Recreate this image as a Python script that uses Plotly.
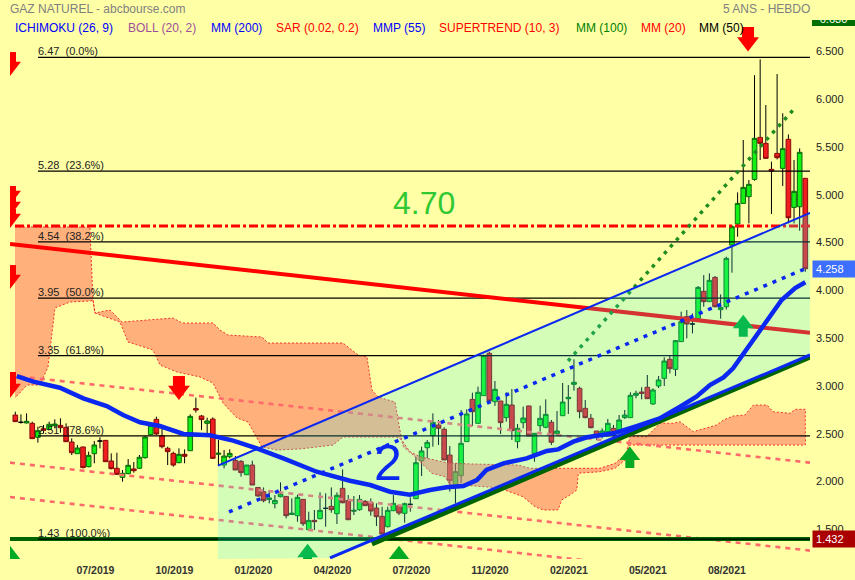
import plotly.graph_objects as go

BG = "#FFFFA6"
# ---- weekly candles (open, high, low, close)
open_ = [2.728,2.652,2.645,2.641,2.495,2.585,2.578,2.617,2.620,2.599,2.446,2.324,2.394,2.188,2.324,2.456,2.463,2.247,2.171,2.076,
2.115,2.164,2.171,2.282,2.523,2.683,2.512,2.380,2.327,2.230,2.317,2.355,2.795,2.718,2.641,2.686,2.320,2.205,2.292,2.254,
2.243,2.104,2.205,1.971,1.926,1.846,1.801,1.874,1.877,1.689,1.675,1.846,1.529,1.626,1.644,1.752,1.773,1.696,1.961,1.835,
1.724,1.738,1.825,1.815,1.755,1.668,1.560,1.727,1.780,1.700,1.794,1.853,2.250,2.386,2.512,2.624,2.579,2.310,1.996,2.094,
2.450,2.892,2.641,2.931,3.374,2.868,2.875,2.701,2.833,2.450,2.648,2.823,2.327,2.617,2.600,2.652,2.533,2.721,2.899,3.049,
3.007,2.798,2.694,2.561,2.519,2.554,2.589,2.572,2.701,2.701,2.934,2.969,3.018,2.844,3.032,3.112,3.311,3.206,3.496,3.757,
3.680,3.739,4.022,3.914,4.168,3.830,3.861,4.506,4.726,4.942,5.012,5.193,5.632,5.570,5.298,5.465,5.308,5.612,4.900,4.907,5.204]
high = [2.763,2.735,2.746,2.659,2.606,2.624,2.659,2.683,2.694,2.641,2.484,2.415,2.397,2.345,2.456,2.495,2.467,2.327,2.334,2.153,
2.268,2.237,2.310,2.509,2.655,2.711,2.624,2.397,2.345,2.380,2.369,2.735,2.910,2.728,2.700,2.704,2.467,2.362,2.369,2.299,
2.257,2.205,2.250,1.971,1.971,1.944,1.891,2.024,1.877,1.856,1.895,1.846,1.717,1.734,1.919,1.909,1.971,1.919,2.160,1.891,
1.881,1.891,1.839,1.856,1.804,1.769,1.769,1.891,1.787,1.811,1.867,2.292,2.397,2.467,2.746,2.676,2.600,2.404,2.223,2.781,
2.788,2.962,3.025,3.360,3.391,3.084,2.875,2.966,3.000,2.634,2.816,2.823,2.537,2.826,2.892,2.676,2.770,3.063,3.042,3.311,
3.025,2.885,2.739,2.561,2.589,2.687,2.624,2.728,2.781,2.966,2.983,3.018,3.147,3.007,3.136,3.332,3.356,3.513,3.809,3.826,
3.791,4.077,4.192,4.210,4.182,3.990,4.384,4.715,5.057,5.605,5.186,6.284,6.448,5.971,5.378,6.295,5.884,5.664,5.395,5.517,5.204]
low = [2.659,2.638,2.641,2.481,2.439,2.537,2.572,2.589,2.544,2.449,2.310,2.320,2.171,2.181,2.223,2.380,2.240,2.160,2.101,2.031,
2.108,2.125,2.164,2.272,2.519,2.519,2.380,2.205,2.188,2.223,2.223,2.352,2.753,2.572,2.519,2.275,2.205,2.170,2.275,2.153,
2.083,2.100,1.996,1.874,1.815,1.804,1.752,1.867,1.647,1.682,1.612,1.567,1.525,1.525,1.637,1.560,1.706,1.588,1.804,1.630,
1.682,1.727,1.780,1.675,1.567,1.483,1.553,1.724,1.682,1.602,1.717,1.849,2.090,2.275,2.397,2.415,2.258,1.927,1.804,2.014,
2.450,2.613,2.641,2.931,2.875,2.823,2.530,2.659,2.467,2.380,2.589,2.509,2.240,2.554,2.589,2.415,2.512,2.718,2.739,2.983,
2.694,2.694,2.589,2.467,2.484,2.500,2.484,2.537,2.687,2.701,2.903,2.892,2.899,2.833,3.010,3.032,3.164,3.136,3.496,3.530,
3.582,3.720,3.861,3.914,3.854,3.736,3.833,4.217,4.593,4.942,4.733,5.179,5.395,5.413,4.831,5.402,5.123,4.733,4.733,4.656,4.227]
close = [2.659,2.652,2.662,2.481,2.565,2.568,2.631,2.634,2.596,2.449,2.334,2.383,2.178,2.306,2.415,2.456,2.240,2.167,2.108,2.118,
2.202,2.146,2.286,2.498,2.620,2.530,2.397,2.345,2.205,2.317,2.296,2.714,2.781,2.680,2.666,2.275,2.328,2.299,2.327,2.153,
2.125,2.205,1.996,1.881,1.832,1.860,1.835,1.902,1.675,1.700,1.867,1.591,1.626,1.612,1.731,1.752,1.738,1.888,1.811,1.633,
1.731,1.846,1.780,1.724,1.665,1.483,1.731,1.804,1.703,1.801,1.794,2.229,2.352,2.442,2.652,2.589,2.258,2.041,2.136,2.432,
2.739,2.763,2.966,3.349,2.875,2.997,2.648,2.840,2.565,2.589,2.697,2.509,2.537,2.694,2.735,2.443,2.561,2.864,2.913,3.070,
2.763,2.701,2.596,2.500,2.561,2.641,2.519,2.676,2.728,2.934,2.955,2.955,2.899,2.990,3.095,3.293,3.213,3.506,3.704,3.680,
3.680,4.063,3.914,4.137,3.861,3.854,4.367,4.698,4.942,5.109,5.141,5.622,5.570,5.413,5.280,5.420,5.514,4.792,5.068,5.476,4.258]
sessions = list(range(len(close)))

# ---- x axis
tick_pos = [14.2,28.2,42.2,56.2,70.2,84.1,98.1,112.1,126.1]
tick_labels = ["07/2019","10/2019","01/2020","04/2020","07/2020","11/2020","02/2021","05/2021","08/2021"]
x_range = [-0.94, 140.83]
y_range = [1.2221, 6.8602]
price_ticks = [1.5,2.0,2.5,3.0,3.5,4.0,4.5,5.0,5.5,6.0,6.5]
price_tick_labels = ["1.500","2.000","2.500","3.000","3.500","4.000","4.500","5.000","5.500","6.000","6.500"]

# ---- MM 200
ma_x = [0.25,3.2,7.9,12.05,16.2,19.1,22.1,25.6,29.8,34.5,38.6,42.8,47.5,53.4,59.3,62.9,66.4,69.9,73.5,76.4,79.4,81.8,83.5,86.5,90.6,94.2,96.2,98.9,101.3,106,110.1,114.2,117.8,120.7,123.1,125.5,127.2,129.5,132,133.7,135.8,138.2,140]
ma_y = [3.136,3.077,3.014,2.903,2.822,2.728,2.652,2.613,2.530,2.516,2.460,2.380,2.275,2.135,2.041,1.996,1.926,1.895,1.944,1.972,1.986,2.048,2.153,2.223,2.275,2.352,2.369,2.449,2.495,2.537,2.613,2.693,2.815,2.920,3.042,3.122,3.217,3.408,3.617,3.774,3.931,4.057,4.117]

# ---- Ichimoku cloud
cloud_up_x = [-0.05,13.24,13.41,13.77,14.12,16.78,18.91,27.95,29.54,35.04,36.27,37.69,43.72,44.78,58.07,60.73,62.32,63.21,64.28,67.29,68.47,69.95,71.72,73.13,76.68,80.88,85.0,89.08,91.2,98.3,103.6,106.3,108.3,108.9,111.9,114.25,116.6,117.8,120.15,124.3,125.5,127.2,129.3,130.8,133.2,134.3,137.3,138.2,140]
cloud_up_y = [4.695,4.695,4.423,3.931,3.795,3.827,3.701,3.743,3.691,3.691,3.617,3.565,3.544,3.481,3.481,3.356,3.335,2.990,2.917,2.864,2.467,2.344,2.292,2.275,2.226,2.216,2.213,2.205,2.171,2.171,2.171,2.223,2.328,2.501,2.501,2.642,2.642,2.658,2.554,2.624,2.676,2.718,2.728,2.833,2.833,2.763,2.746,2.788,2.788]
cloud_lo_x = [-0.05,2.07,4.38,5.79,7.03,9.69,13.24,13.77,14.12,18.55,19.97,24.4,25.64,28.65,32.73,35.04,36.8,39.29,41.24,43.72,46.37,50.45,56.3,58.07,62.32,67.64,68.47,68.76,70.83,73.79,76.14,77.03,81.47,84.42,86.43,89.97,92.09,93.51,96.17,96.83,98.3,99.49,99.77,103.6,106.3,108.05,108.9,140]
cloud_lo_y = [2.906,3.042,3.042,3.230,3.848,3.910,3.921,3.931,3.795,3.701,3.492,3.408,3.251,3.178,3.126,3.063,2.854,2.697,2.655,2.394,2.362,2.373,2.414,2.498,2.498,2.498,2.467,2.397,2.292,2.119,2.083,1.996,1.986,1.972,1.951,1.874,1.769,1.735,1.735,1.839,1.892,1.944,2.119,2.135,2.171,2.258,2.414,2.414]

# ---- Fibonacci retracement
fib_levels = [6.47,5.28,4.54,3.95,3.35,2.51,1.43]
fib_labels = ["6.47\u00a0\u00a0(0.0%)","5.28\u00a0\u00a0(23.6%)","4.54\u00a0\u00a0(38.2%)","3.95\u00a0\u00a0(50.0%)","3.35\u00a0\u00a0(61.8%)","2.51\u00a0\u00a0(78.6%)","1.43\u00a0\u00a0(100.0%)"]
fib_start = 4.02

# ---- trend lines
chan_top_x, chan_top_y = [35.9,140.83],[2.198,4.841]
chan_low_x, chan_low_y = [55.77,140.83],[1.233,3.356]
chan_mid_x, chan_mid_y = [37.87,140.3],[1.714,4.266]
green_base_x, green_base_y = [63.2,140.83],[1.379,3.335]
green_dot_x, green_dot_y = [97.95,138],[3.293,5.929]
red_fall_x, red_fall_y = [-0.94,140.83],[4.517,3.589]
dash1_x, dash1_y = [-0.94,140.83],[3.142,2.23]
dash2_x, dash2_y = [-0.94,140.83],[2.23,1.31]
dash3_x, dash3_y = [-0.94,140.83],[1.87,0.95]
supertrend_level = 4.705
floor_level = 1.432

# ---- signal arrows
down_x = [129.85,29.0,-0.94,-0.94,-0.94,-0.94,-0.94,-0.94]
down_top = [6.787,3.136,6.525,5.124,5.009,4.883,4.297,3.178]
down_head = [6.63,2.985,6.374,5.024,4.909,4.784,4.146,3.006]
up_x = [129,108.9,51.8,68,-0.94]
up_head = [3.683,2.306,1.288,1.267,1.267]
up_bottom = [3.547,2.174,1.105,1.105,1.105]

legend_names = ["ICHIMOKU (26, 9)","BOLL (20, 2)","MM (200)","SAR (0.02, 0.2)","MMP (55)","SUPERTREND (10, 3)","MM (100)","MM (20)","MM (50)"]
legend_colors = ["#0000FF","#A0509A","#0000FF","#FF0000","#0000FF","#FF0000","#008000","#FF0000","#000000"]
legend_left = [13,126,209,274,371,437,574,639,697]

FONT = "Liberation Sans, Arial, sans-serif"
fig = go.Figure()

def line(x, y, color, width, dash=None):
    fig.add_trace(go.Scatter(x=x, y=y, mode="lines", hoverinfo="skip", showlegend=False,
                             line=dict(color=color, width=width, dash=dash)))

# wicks (black) then bodies; the wick trace collapses its body to a midpoint hidden by the bodies
mid = [(o + c) / 2 for o, c in zip(open_, close)]
fig.add_trace(go.Candlestick(x=sessions, open=mid, high=high, low=low, close=mid, whiskerwidth=0,
    increasing=dict(line=dict(color="#000000", width=1), fillcolor="#000000"),
    decreasing=dict(line=dict(color="#000000", width=1), fillcolor="#000000"),
    hoverinfo="skip", showlegend=False))
b_open = [o if o != c else None for o, c in zip(open_, close)]
b_close = [c if o != c else None for o, c in zip(open_, close)]
b_high = [max(o, c) if o != c else None for o, c in zip(open_, close)]
b_low = [min(o, c) if o != c else None for o, c in zip(open_, close)]
fig.add_trace(go.Candlestick(x=sessions, open=b_open, high=b_high, low=b_low, close=b_close, whiskerwidth=0,
    increasing=dict(line=dict(color="#0B6B0B", width=1), fillcolor="#14F014"),
    decreasing=dict(line=dict(color="#8A0A0A", width=1), fillcolor="#F01E1E"),
    hoverinfo="skip", showlegend=False))

# cloud
fig.add_trace(go.Scatter(x=cloud_up_x + cloud_lo_x[::-1], y=cloud_up_y + cloud_lo_y[::-1], mode="lines", fill="toself",
    fillcolor="rgba(255,97,79,0.5)", line=dict(color="#F03030", width=1, dash="2px,2px"), hoverinfo="skip", showlegend=False))

# dashed red channel
for xs, ys in ((dash1_x, dash1_y), (dash2_x, dash2_y), (dash3_x, dash3_y)):
    line(xs, ys, "#FF6A6A", 2.6, "5px,5px")

# floor, fibs
line(x_range, [floor_level, floor_level], "#006400", 4)
for lv in fib_levels:
    line([fib_start, x_range[1]], [lv, lv], "#000000", 1.2)

line(red_fall_x, red_fall_y, "#FF0000", 4)
line([-0.05, x_range[1]], [supertrend_level, supertrend_level], "#FF0000", 3, "9px,3px,3px,3px")
line(green_dot_x, green_dot_y, "#1E8C1E", 3.5, "3.5px,5.5px")
line(green_base_x, green_base_y, "#006400", 5)

# arrows
stem_x, stem_y = [], []
for x, t, h in zip(down_x, down_top, down_head):
    stem_x += [x, x, None]; stem_y += [t, h, None]
line(stem_x, stem_y, "#FF0000", 12)
fig.add_trace(go.Scatter(x=down_x, y=down_head, mode="markers", hoverinfo="skip", showlegend=False,
    marker=dict(symbol="triangle-down", size=19, color="#FF0000", line=dict(width=0))))
stem_x, stem_y = [], []
for x, h, b in zip(up_x, up_head, up_bottom):
    stem_x += [x, x, None]; stem_y += [b, h, None]
line(stem_x, stem_y, "#00AA22", 9)
fig.add_trace(go.Scatter(x=up_x, y=up_head, mode="markers", hoverinfo="skip", showlegend=False,
    marker=dict(symbol="triangle-up", size=18, color="#00AA22", line=dict(width=0))))

# channel fill on top with transparency
fig.add_trace(go.Scatter(
    x=[chan_top_x[0]] + chan_top_x + chan_low_x[::-1],
    y=[y_range[0]] + chan_top_y + chan_low_y[::-1],
    mode="none", fill="toself", fillcolor="rgba(40,250,255,0.2)", hoverinfo="skip", showlegend=False))

line(ma_x, ma_y, "#0A28F0", 4.5)
line(chan_top_x, chan_top_y, "#0A28F0", 2)
line(chan_low_x, chan_low_y, "#0A28F0", 3)
line(chan_mid_x, chan_mid_y, "#0A28F0", 3.5, "4px,6px")

ann = []
W_PAPER = 845.0
def px(x):
    return (x - 10) / W_PAPER

for name, col, xl in zip(legend_names, legend_colors, legend_left):
    ann.append(dict(text=name, x=px(xl), xref="paper", y=1, yref="paper", yshift=-7.5, xanchor="left", yanchor="middle",
                    showarrow=False, font=dict(family=FONT, size=12, color=col)))
ann.append(dict(text="GAZ NATUREL - abcbourse.com", x=px(8), xref="paper", y=1, yref="paper", yshift=11, xanchor="left", yanchor="middle",
                showarrow=False, font=dict(family=FONT, size=12, color="#808080")))
ann.append(dict(text="5 ANS - HEBDO", x=px(812), xref="paper", y=1, yref="paper", yshift=11, xanchor="right", yanchor="middle",
                showarrow=False, font=dict(family=FONT, size=12, color="#808080")))
for lv, lab in zip(fib_levels, fib_labels):
    ann.append(dict(text=lab, x=fib_start, xref="x", y=lv, yref="y", xanchor="left", yanchor="bottom", xshift=-2, yshift=-2,
                    showarrow=False, font=dict(family=FONT, size=11, color="#222222")))
ann.append(dict(text="4.70", x=72.4, xref="x", y=4.946, yref="y", showarrow=False,
                font=dict(family=FONT, size=32, color="#32C832")))
ann.append(dict(text="2", x=66.1, xref="x", y=2.226, yref="y", showarrow=False,
                font=dict(family=FONT, size=50, color="#0A28F0")))
ann.append(dict(text="\u00a04.258", x=px(812), xref="paper", y=4.258, yref="y", xanchor="left", yanchor="middle", showarrow=False,
                width=43, height=16, bgcolor="#3C6EFF", align="left", borderpad=0,
                font=dict(family=FONT, size=11, color="#FFFFFF")))
ann.append(dict(text="\u00a01.432", x=px(812), xref="paper", y=1.432, yref="y", xanchor="left", yanchor="middle", showarrow=False,
                width=43, height=16, bgcolor="#AA0000", align="left", borderpad=0,
                font=dict(family=FONT, size=11, color="#FFFFFF")))

# clipped tag in the upper right corner
fig.add_trace(go.Scatter(x=[0.5], y=[0.9], mode="text", text=["6.630"], xaxis="x2", yaxis="y2", hoverinfo="skip", showlegend=False,
    textfont=dict(family=FONT, size=11, color="#FFFFFF"), cliponaxis=True))

fig.update_layout(
    width=855, height=580, autosize=False,
    margin=dict(l=10, r=0, t=20, b=21, pad=0),
    paper_bgcolor=BG, plot_bgcolor=BG, showlegend=False, boxgap=0.18, boxgroupgap=0,
    xaxis=dict(domain=[0, 800/W_PAPER], range=x_range, type="linear", tickmode="array", tickvals=tick_pos, ticktext=tick_labels,
               showgrid=False, zeroline=False, showline=False, ticks="", rangeslider=dict(visible=False),
               tickfont=dict(family=FONT, size=10.5, color="#333333", weight="bold"), ticklabelstandoff=3),
    yaxis=dict(range=y_range, side="right", tickmode="array", tickvals=price_ticks, ticktext=price_tick_labels,
               showgrid=False, zeroline=False, showline=False, ticks="", anchor="x",
               tickfont=dict(family=FONT, size=11, color="#222222"), ticklabelshift=-3, ticklabelstandoff=5),
    xaxis2=dict(domain=[802/W_PAPER, 1], range=[0, 1], visible=False, anchor="y2"),
    yaxis2=dict(domain=[533/539.0, 1], range=[0, 1], visible=False, anchor="x2"),
    shapes=[dict(type="rect", xref="x2", yref="y2", x0=0, x1=1, y0=0, y1=1, fillcolor="#006E00", line=dict(width=0), layer="below")],
    annotations=ann,
)
fig.write_html("out.html", config={"displayModeBar": False}, post_script="document.body.style.margin='0';")
